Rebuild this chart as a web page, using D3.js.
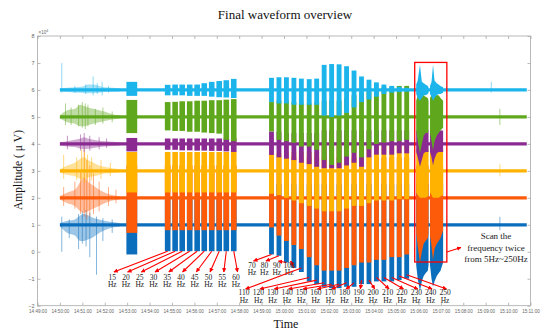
<!DOCTYPE html>
<html>
<head>
<meta charset="utf-8">
<script src="https://cdn.jsdelivr.net/npm/d3@7"></script>
<style>
  body { margin: 0; background: #fff; }
  svg { display: block; }
</style>
</head>
<body>
<div id="chart"></div>
<script>
// six channels, plotted bottom to top, offset by 1 x10^4 uV each
var channelOffset = [1, 2, 3, 4, 5, 6];
var channelColor = ["#0a6ebd", "#fd5a0a", "#ffb300", "#8b2b91", "#5fa81d", "#1bb5ec"];
var baseNoise = [0.06, 0.06, 0.06, 0.06, 0.06, 0.06];
var recordStart = "14:50:00";
var recordEnd = "15:10:50";

// excitation bursts: one at 14:53, then 15-60 Hz, then 70-250 Hz
var burstStart = ["14:52:58",
  "14:54:41", "14:55:01", "14:55:20", "14:55:40", "14:56:00", "14:56:19", "14:56:39", "14:56:59", "14:57:18", "14:57:38",
  "14:59:20", "14:59:40", "15:00:00", "15:00:20", "15:00:40", "15:01:01", "15:01:21", "15:01:41", "15:02:01", "15:02:21",
  "15:02:41", "15:03:01", "15:03:21", "15:03:41", "15:04:01", "15:04:21", "15:04:42", "15:05:02", "15:05:22"];
var burstEnd = ["14:53:27",
  "14:54:56", "14:55:16", "14:55:35", "14:55:55", "14:56:15", "14:56:34", "14:56:54", "14:57:14", "14:57:33", "14:57:53",
  "14:59:33", "14:59:53", "15:00:13", "15:00:33", "15:00:53", "15:01:14", "15:01:34", "15:01:54", "15:02:14", "15:02:34",
  "15:02:54", "15:03:14", "15:03:34", "15:03:54", "15:04:14", "15:04:34", "15:04:55", "15:05:15", "15:05:35"];

// burst envelope above / below each channel's offset (x10^4 uV)
var burstUp = [
  [1.0, 1,1,1,1,1,1,1,1,1,1, 1.5,1.5,1.5,1.5,1.5,1.5,1.5,1.5,1.5,1.5,1.5,1.5,1.5,1.5,1.5,1.5,1.5,1.5,1.5],
  [1.2, 1.2,1.2,1.2,1.2,1.2,1.2,1.2,1.2,1.2,1.2, 1.5,1.5,1.5,1.5,1.5,1.5,1.5,1.5,1.5,1.5,1.5,1.5,1.5,1.5,1.5,1.5,1.5,1.5,1.5],
  [0.7, 0.7,0.7,0.7,0.7,0.7,0.7,0.7,0.7,0.7,0.7, 0.65,0.65,0.7,0.7,0.7,0.7,0.7,1,1,1,1,1,1,1,1,1,1,1,1],
  [0.22, 0.2,0.2,0.2,0.2,0.2,0.2,0.2,0.2,0.2,0.2, 0.46,0.45,0.4,0.4,0.4,0.4,0.4,0.5,0.5,0.5,0.5,0.5,0.5,0.5,0.5,0.5,0.5,0.5,0.5],
  [0.63, 0.55,0.56,0.58,0.58,0.6,0.6,0.62,0.62,0.64,0.66, 0.55,0.6,0.6,0.55,0.5,0.5,0.55,0.6,0.6,0.6,0.7,0.8,0.9,1.0,1.05,1.1,1.1,1.15,1.15],
  [0.3, 0.19,0.2,0.2,0.2,0.2,0.25,0.3,0.33,0.36,0.41, 0.45,0.47,0.47,0.45,0.42,0.4,0.42,0.93,0.96,0.95,0.88,0.72,0.5,0.38,0.28,0.2,0.15,0.12,0.08]
];
var burstDown = [
  [1.1, 0.98,0.98,0.98,0.98,0.98,0.98,0.98,0.98,0.98,0.98, 1.1,1.15,1.4,1.6,1.75,2.1,2.2,2.3,2.35,2.35,2.3,2.3,2.2,2.2,2.1,2.1,2.1,2.05,2.0],
  [1.3, 1.2,1.2,1.2,1.2,1.2,1.2,1.2,1.2,1.2,1.2, 1.1,1.4,1.6,1.75,1.9,2.2,2.5,2.7,2.7,2.7,2.6,2.5,2.4,2.4,2.3,2.3,2.2,2.2,2.1],
  [0.8, 0.8,0.8,0.8,0.8,0.8,0.8,0.8,0.8,0.8,0.8, 0.85,0.9,1.0,1.1,1.2,1.3,1.4,1.5,1.5,1.5,1.4,1.3,1.3,1.2,1.1,1.1,1.1,1.05,1.05],
  [0.28, 0.22,0.22,0.24,0.24,0.25,0.25,0.26,0.26,0.28,0.3, 0.41,0.5,0.55,0.6,0.7,0.75,0.85,0.9,0.9,0.9,0.8,0.7,0.85,0.5,0.4,0.4,0.4,0.35,0.35],
  [0.6, 0.5,0.52,0.52,0.55,0.55,0.58,0.6,0.62,0.85,0.9, 0.54,0.85,0.9,0.96,1.1,1.1,1.22,1.6,1.78,1.7,1.47,1.33,1.5,1.2,1.0,0.95,0.9,0.9,0.85],
  [0.22, 0.2,0.2,0.2,0.22,0.22,0.22,0.25,0.27,0.28,0.3, 0.45,0.5,0.5,0.55,0.55,0.55,0.55,0.95,1.0,0.95,0.85,0.65,0.45,0.35,0.25,0.15,0.1,0.08,0.06]
];

// the two 5-250 Hz sweeps inside the red box
var scanTime = [
  ["15:05:54", "15:05:58", "15:06:04", "15:06:09", "15:06:14", "15:06:19", "15:06:25", "15:06:27"],
  ["15:06:31", "15:06:35", "15:06:39", "15:06:43", "15:06:49", "15:06:54", "15:06:59", "15:07:06"]
];
var scanUp = [
  [[1.5,1.5,1.5,1.5,1.5,1.5,1.5,1.5], [1.5,1.5,1.5,1.5,1.5,1.5,1.5,1.5]],
  [[1.2,1.2,1.2,1.2,1.2,1.2,1.2,1.2], [1.2,1.2,1.2,1.2,1.2,1.2,1.2,1.2]],
  [[0.8,0.8,0.8,0.8,0.8,0.8,0.8,0.8], [0.8,0.8,0.8,0.8,0.8,0.8,0.8,0.8]],
  [[0.5,0.5,0.5,0.5,0.5,0.5,0.5,0.5], [0.5,0.5,0.5,0.5,0.5,0.5,0.5,0.5]],
  [[0.6,0.8,0.9,0.85,0.8,0.75,0.7,0.6], [0.7,0.8,0.9,0.85,0.8,0.8,0.7,0.6]],
  [[0.2,0.35,0.93,0.3,0.25,0.2,0.15,0.1], [0.15,0.3,0.93,0.35,0.25,0.2,0.15,0.1]]
];
var scanDown = [
  [[1.5,2.0,2.45,2.1,1.9,1.8,1.7,1.5], [1.5,2.0,2.3,2.1,1.9,1.8,1.7,1.4]],
  [[1.3,1.8,2.4,2.0,1.7,1.6,1.5,1.3], [1.4,1.8,2.3,1.9,1.7,1.6,1.5,1.2]],
  [[0.8,0.9,1.0,1.0,1.0,1.0,0.95,0.9], [0.8,0.9,1.0,1.0,1.0,1.0,0.95,0.9]],
  [[0.3,0.5,0.85,0.6,0.35,0.3,0.3,0.3], [0.3,0.5,0.8,0.55,0.35,0.3,0.3,0.3]],
  [[0.5,0.9,1.35,1.0,0.7,0.6,0.6,0.5], [0.6,0.9,1.25,0.9,0.7,0.6,0.5,0.4]],
  [[0.15,0.3,0.4,0.3,0.2,0.2,0.15,0.1], [0.15,0.25,0.4,0.3,0.2,0.15,0.15,0.1]]
];

// noisy stretch at the start of the record (envelope, drawn faint)
var noiseTime = ["14:50:00", "14:50:20", "14:50:40", "14:50:55", "14:51:05", "14:51:15", "14:51:30", "14:51:45", "14:52:00", "14:52:20", "14:52:40"];
var noiseUp = [
  [0.06, 0.15, 0.2, 0.35, 0.4, 0.35, 0.25, 0.2, 0.15, 0.1, 0.06],
  [0.06, 0.2, 0.3, 0.6, 0.75, 0.6, 0.45, 0.3, 0.2, 0.1, 0.06],
  [0.06, 0.2, 0.3, 0.45, 0.5, 0.4, 0.3, 0.2, 0.15, 0.1, 0.06],
  [0.06, 0.1, 0.15, 0.2, 0.25, 0.2, 0.15, 0.12, 0.1, 0.08, 0.06],
  [0.06, 0.25, 0.3, 0.45, 0.4, 0.35, 0.3, 0.25, 0.2, 0.1, 0.06],
  [0.06, 0.08, 0.1, 0.12, 0.15, 0.2, 0.2, 0.15, 0.1, 0.08, 0.06]
];
var noiseDown = [
  [0.06, 0.3, 0.4, 0.6, 0.6, 0.55, 0.45, 0.3, 0.2, 0.1, 0.06],
  [0.06, 0.2, 0.3, 0.5, 0.55, 0.5, 0.4, 0.3, 0.2, 0.1, 0.06],
  [0.06, 0.15, 0.2, 0.3, 0.3, 0.25, 0.2, 0.15, 0.1, 0.08, 0.06],
  [0.06, 0.1, 0.12, 0.18, 0.2, 0.18, 0.15, 0.12, 0.1, 0.08, 0.06],
  [0.06, 0.2, 0.25, 0.35, 0.35, 0.3, 0.25, 0.2, 0.15, 0.1, 0.06],
  [0.06, 0.08, 0.1, 0.1, 0.12, 0.12, 0.12, 0.1, 0.08, 0.07, 0.06]
];

// isolated spikes: [time, up, down]
var spikes = [
  [["14:50:05",0.3,1.0],["14:50:25",0.2,0.5],["14:50:50",0.4,0.9],["14:51:00",0.5,0.7],["14:51:10",0.55,0.8],
   ["14:51:20",0.45,1.2],["14:51:38",0.3,1.85],["14:51:55",0.25,0.6],["14:52:20",0.2,0.3],["15:09:38",0.3,0.2]],
  [["14:50:10",0.4,0.3],["14:50:40",0.6,0.4],["14:50:55",1.0,0.6],["14:51:05",1.8,0.7],["14:51:12",1.4,0.8],
   ["14:51:20",1.2,0.7],["14:51:30",0.9,0.6],["14:51:45",0.6,0.5],["14:52:10",0.4,0.3],["14:52:30",0.3,0.2]],
  [["14:50:10",0.6,0.3],["14:50:45",0.5,0.35],["14:50:58",0.8,0.4],["14:51:06",0.7,0.45],["14:51:14",0.6,0.4],
   ["14:51:25",0.5,0.35],["14:51:50",0.4,0.3],["14:52:15",0.3,0.2],["15:09:38",0.25,0.2]],
  [["14:50:20",0.3,0.2],["14:50:55",0.35,0.25],["14:51:05",0.4,0.3],["14:51:20",0.3,0.25],["14:51:45",0.25,0.2],["14:52:05",0.2,0.15]],
  [["14:50:15",0.5,0.3],["14:50:30",0.35,0.3],["14:50:50",0.45,0.35],["14:51:00",0.55,0.4],["14:51:08",0.5,0.45],
   ["14:51:15",0.45,0.35],["14:51:35",0.3,0.3],["14:51:55",0.35,0.25],["14:52:20",0.2,0.2],["15:09:38",0.3,0.3]],
  [["14:50:05",1.0,0.1],["14:50:40",0.15,0.1],["14:51:09",0.2,0.15],["14:51:29",0.5,0.2],["14:51:40",0.25,0.15],
   ["14:51:53",0.3,0.2],["14:52:10",0.15,0.1],["15:09:15",0.3,0.1]]
];

// frequency labels; each points at one burst
var freqRowA = ["15", "20", "25", "30", "35", "40", "45", "50", "55", "60"];
var freqRowB = ["70", "80", "90", "100"];
var freqRowC = ["110", "120", "130", "140", "150", "160", "170", "180", "190", "200", "210", "220", "230", "240", "250"];

// axis ticks
var yTicks = [-2, -1, 0, 1, 2, 3, 4, 5, 6, 7, 8];
var xDomain = ["14:49:00", "15:11:00"];

var w = 550, h = 331;
var padL = 37.5, padR = 530.5, padT = 36, padB = 305.7;
var parse = d3.timeParse("%H:%M:%S");

var svg = d3.select("#chart").append("svg")
  .attr("width", w).attr("height", h)
  .style("font-family", "'Liberation Serif', 'Times New Roman', serif");

var xScale = d3.scaleTime().domain(xDomain.map(parse)).range([padL, padR]);
var yScale = d3.scaleLinear().domain([-2, 8]).range([padB, padT]);

var band = d3.area()
  .x(d => xScale(d.t))
  .y0(d => yScale(d.base - d.down))
  .y1(d => yScale(d.base + d.up));

// draw channels from bottom to top so upper ones overlap lower ones
channelOffset.forEach(function(base, c) {
  var g = svg.append("g").attr("fill", channelColor[c]).attr("stroke", "none");

  // baseline noise over the whole record
  g.append("path")
    .datum([recordStart, recordEnd].map(t => ({t: parse(t), base: base, up: baseNoise[c], down: baseNoise[c]})))
    .attr("d", band);

  // faint noisy stretch
  g.append("path")
    .datum(noiseTime.map((t, j) => ({t: parse(t), base: base, up: noiseUp[c][j], down: noiseDown[c][j]})))
    .attr("d", band.curve(d3.curveMonotoneX))
    .attr("opacity", 0.4);
  band.curve(d3.curveLinear);

  // isolated spikes
  spikes[c].forEach(function(s) {
    g.append("line")
      .attr("x1", xScale(parse(s[0]))).attr("x2", xScale(parse(s[0])))
      .attr("y1", yScale(base + s[1])).attr("y2", yScale(base - s[2]))
      .attr("stroke", channelColor[c]).attr("stroke-width", 0.9).attr("opacity", 0.55);
  });

  // bursts
  burstStart.forEach(function(s, i) {
    g.append("path")
      .datum([s, burstEnd[i]].map(t => ({t: parse(t), base: base, up: burstUp[c][i], down: burstDown[c][i]})))
      .attr("d", band);
  });

  // sweeps
  scanTime.forEach(function(ts, k) {
    g.append("path")
      .datum(ts.map((t, j) => ({t: parse(t), base: base, up: scanUp[c][k][j], down: scanDown[c][k][j]})))
      .attr("d", band);
  });
});

// axes box
var axisColor = "#a8a8a8";
var xTicks = d3.timeMinute.range(parse(xDomain[0]), d3.timeSecond.offset(parse(xDomain[1]), 1));

svg.append("rect")
  .attr("x", padL).attr("y", padT).attr("width", padR - padL).attr("height", padB - padT)
  .attr("fill", "none").attr("stroke", axisColor).attr("stroke-width", 0.8);

var xAxis = svg.append("g")
  .attr("transform", `translate(0,${padB})`)
  .call(d3.axisBottom(xScale).tickValues(xTicks).tickFormat(d3.timeFormat("%H:%M:%S")).tickSize(-3).tickPadding(4));
var xTop = svg.append("g")
  .attr("transform", `translate(0,${padT})`)
  .call(d3.axisTop(xScale).tickValues(xTicks).tickFormat("").tickSize(-3));
var yAxis = svg.append("g")
  .attr("transform", `translate(${padL},0)`)
  .call(d3.axisLeft(yScale).tickValues(yTicks).tickFormat(d3.format("d")).tickSize(-3).tickPadding(3));
var yRight = svg.append("g")
  .attr("transform", `translate(${padR},0)`)
  .call(d3.axisRight(yScale).tickValues(yTicks).tickFormat("").tickSize(-3));

[xAxis, xTop, yAxis, yRight].forEach(function(a) {
  a.select(".domain").remove();
  a.selectAll("line").attr("stroke", axisColor).attr("stroke-width", 0.8);
  a.selectAll("text").attr("fill", "#666").style("font-family", "'Liberation Sans', Arial, sans-serif");
});
xAxis.selectAll("text").attr("font-size", 4.6);
yAxis.selectAll("text").attr("font-size", 5.5);

var expo = svg.append("text").attr("x", padL + 1).attr("y", padT - 2)
  .attr("fill", "#666").attr("font-size", 4.5).style("font-family", "'Liberation Sans', Arial, sans-serif");
expo.append("tspan").text("\u00d710");
expo.append("tspan").attr("dy", -2).attr("font-size", 3.5).text("4");

// titles
svg.append("text").attr("x", 285).attr("y", 19).attr("text-anchor", "middle")
  .attr("font-size", 13).attr("fill", "#111").text("Final waveform overview");
svg.append("text").attr("x", 286).attr("y", 328).attr("text-anchor", "middle")
  .attr("font-size", 12).attr("fill", "#111").text("Time");
svg.append("text").attr("transform", "translate(22,170) rotate(-90)").attr("text-anchor", "middle")
  .attr("font-size", 11.5).attr("fill", "#111").text("Amplitude ( \u03bc V)");

// arrows to frequency labels
svg.append("defs").append("marker")
  .attr("id", "arrow").attr("viewBox", "0 0 10 10").attr("refX", 9).attr("refY", 5)
  .attr("markerWidth", 4).attr("markerHeight", 4).attr("orient", "auto-start-reverse")
  .append("path").attr("d", "M0,0 L10,5 L0,10 z").attr("fill", "#f00");

var red = "#f00";
function burstCenter(i) {
  return (xScale(parse(burstStart[i])) + xScale(parse(burstEnd[i]))) / 2;
}
function blueBottom(i) {
  return yScale(channelOffset[0] - burstDown[0][i]);
}
function labelRow(names, x0, step, yNum, firstBurst, yTip, startInset) {
  names.forEach(function(n, i) {
    var lx = x0 + i * step;
    var bi = firstBurst + i;
    svg.append("line")
      .attr("x1", burstCenter(bi)).attr("y1", blueBottom(bi) - startInset)
      .attr("x2", lx + 1.5).attr("y2", yTip)
      .attr("stroke", red).attr("stroke-width", 1.1).attr("marker-end", "url(#arrow)");
    var t = svg.append("text").attr("text-anchor", "middle").attr("font-size", 7.5).attr("fill", "#222");
    t.append("tspan").attr("x", lx).attr("y", yNum).text(n);
    t.append("tspan").attr("x", lx).attr("y", yNum + 7.5).text("Hz");
  });
}
labelRow(freqRowA, 112.3, 13.75, 279.5, 1, 272, 0);
labelRow(freqRowB, 252, 12.4, 267.5, 11, 261, 0);
labelRow(freqRowC, 244, 14.36, 295, 15, 289, 4);

// red box around the two sweeps
var boxT0 = parse("15:05:50"), boxT1 = parse("15:07:16");
svg.append("rect")
  .attr("x", xScale(boxT0)).attr("y", yScale(7.02))
  .attr("width", xScale(boxT1) - xScale(boxT0)).attr("height", yScale(-0.38) - yScale(7.02))
  .attr("fill", "none").attr("stroke", red).attr("stroke-width", 1.3);

svg.append("line")
  .attr("x1", xScale(boxT1)).attr("y1", 252).attr("x2", 461).attr("y2", 247.5)
  .attr("stroke", red).attr("stroke-width", 1.1).attr("marker-end", "url(#arrow)");

var note = svg.append("text").attr("text-anchor", "middle").attr("font-size", 9).attr("fill", "#222");
note.append("tspan").attr("x", 496).attr("y", 239).text("Scan the");
note.append("tspan").attr("x", 496).attr("y", 250.5).text("frequency twice");
note.append("tspan").attr("x", 496).attr("y", 262).text("from 5Hz~250Hz");
</script>
</body>
</html>
